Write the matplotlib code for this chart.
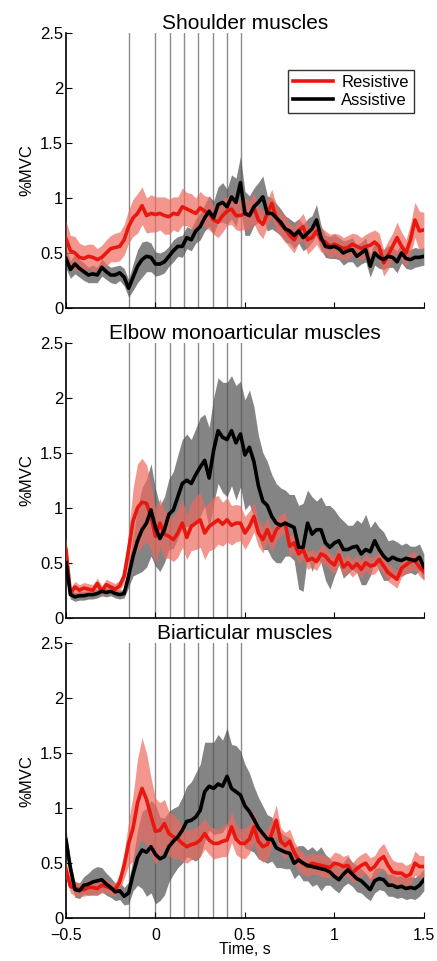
import numpy as np
import matplotlib
matplotlib.use("Agg")
import matplotlib.pyplot as plt

plt.rcParams['font.family'] = ['Liberation Sans', 'DejaVu Sans']

# time grid (s), 0.025 s sampling
time = np.linspace(-0.5, 1.5, 81)
event_times = [-0.15, 0.0, 0.08, 0.16, 0.24, 0.32, 0.40, 0.48]
titles = ["Shoulder muscles", "Elbow monoarticular muscles", "Biarticular muscles"]
labels = ["Resistive", "Assistive"]
yticks = [0, 0.5, 1, 1.5, 2, 2.5]
ytick_labels = ["0", "0.5", "1", "1.5", "2", "2.5"]
xticks = [-0.5, 0, 0.5, 1, 1.5]
xtick_labels = ["\u22120.5", "0", "0.5", "1", "1.5"]

# ---- Shoulder ----
sh_res_mean = [0.63, 0.52, 0.50, 0.46, 0.45, 0.47, 0.46, 0.44, 0.46, 0.50,
               0.54, 0.55, 0.56, 0.62, 0.74, 0.82, 0.86, 0.93, 0.84, 0.86,
               0.85, 0.86, 0.84, 0.83, 0.86, 0.85, 0.92, 0.90, 0.88, 0.86,
               0.91, 0.88, 0.86, 0.80, 0.78, 0.84, 0.88, 0.90, 0.84, 0.84,
               0.86, 0.84, 0.91, 0.80, 0.76, 0.86, 0.95, 0.82, 0.76, 0.72,
               0.66, 0.62, 0.70, 0.74, 0.62, 0.64, 0.70, 0.62, 0.60, 0.56,
               0.58, 0.56, 0.54, 0.55, 0.58, 0.56, 0.54, 0.56, 0.57, 0.60,
               0.56, 0.41, 0.48, 0.56, 0.64, 0.56, 0.50, 0.62, 0.80, 0.70, 0.71]
sh_res_half = [0.16, 0.14, 0.15, 0.13, 0.12, 0.11, 0.12, 0.10, 0.11, 0.12,
               0.12, 0.13, 0.13, 0.14,
               0.15, 0.17, 0.18, 0.17, 0.16, 0.17, 0.16, 0.15, 0.17, 0.16,
               0.15, 0.16, 0.17, 0.15, 0.16, 0.14, 0.15, 0.14, 0.15, 0.13,
               0.14, 0.15, 0.13, 0.14, 0.13, 0.14, 0.14,
               0.13, 0.14, 0.12, 0.13, 0.12, 0.13, 0.12, 0.11, 0.12, 0.11,
               0.12, 0.11, 0.12, 0.13, 0.11, 0.12, 0.11, 0.10, 0.11, 0.10,
               0.11, 0.10, 0.11, 0.10, 0.11, 0.10, 0.11, 0.12, 0.11, 0.12,
               0.12, 0.13, 0.12, 0.14, 0.13, 0.12, 0.14, 0.16, 0.18, 0.16]
sh_ast_mean = [0.45, 0.35, 0.40, 0.36, 0.33, 0.30, 0.31, 0.30, 0.37, 0.33,
               0.30, 0.30, 0.32, 0.28, 0.18, 0.28, 0.38, 0.44, 0.47, 0.46,
               0.40, 0.40, 0.42, 0.47, 0.52, 0.56, 0.56, 0.64, 0.62, 0.70,
               0.74, 0.82, 0.88, 0.82, 0.94, 0.96, 0.92, 1.01, 0.96, 1.14,
               0.86, 0.84, 0.92, 0.96, 1.01, 0.86, 0.86, 0.82, 0.78, 0.72,
               0.70, 0.66, 0.70, 0.64, 0.68, 0.72, 0.80, 0.64, 0.56, 0.55,
               0.56, 0.54, 0.50, 0.52, 0.53, 0.47, 0.50, 0.53, 0.38, 0.50,
               0.46, 0.44, 0.47, 0.46, 0.42, 0.50, 0.45, 0.44, 0.46, 0.46, 0.47]
sh_ast_half = [0.09, 0.08, 0.09, 0.08, 0.08, 0.07, 0.08, 0.07, 0.08, 0.07,
               0.07, 0.08, 0.07, 0.08,
               0.08, 0.12, 0.15, 0.16, 0.14, 0.13, 0.11, 0.10, 0.10, 0.09,
               0.10, 0.09, 0.10,
               0.10, 0.10, 0.11, 0.12, 0.12, 0.14, 0.15, 0.16, 0.18, 0.16,
               0.20, 0.22, 0.24, 0.20, 0.18, 0.17, 0.18, 0.19, 0.16, 0.14,
               0.13, 0.12, 0.12,
               0.11, 0.12, 0.11, 0.12, 0.13, 0.12, 0.14, 0.11, 0.10, 0.10,
               0.11, 0.10, 0.11, 0.10, 0.11, 0.10, 0.10, 0.11, 0.10, 0.11,
               0.10, 0.09, 0.10, 0.09, 0.10, 0.09, 0.09, 0.09, 0.09, 0.08, 0.08]

# ---- Elbow monoarticular ----
el_res_mean = [0.62, 0.22, 0.28, 0.25, 0.27, 0.26, 0.25, 0.31, 0.24, 0.30,
               0.28, 0.26, 0.29, 0.38, 0.62, 0.88, 1.00, 1.05, 1.04, 0.92,
               0.74, 0.86, 0.76, 0.74, 0.71, 0.77, 0.86, 0.73, 0.83, 0.86,
               0.89, 0.77, 0.83, 0.86, 0.89, 0.85, 0.89, 0.84, 0.86, 0.86,
               0.77, 0.83, 0.92, 0.77, 0.71, 0.80, 0.70, 0.80, 0.84, 0.86,
               0.65, 0.68, 0.58, 0.62, 0.52, 0.54, 0.51, 0.58, 0.56, 0.51,
               0.48, 0.57, 0.46, 0.50, 0.45, 0.49, 0.44, 0.50, 0.47, 0.48,
               0.53, 0.47, 0.41, 0.38, 0.35, 0.45, 0.48, 0.51, 0.52, 0.46, 0.42]
el_res_half = [0.12,
               0.05, 0.05, 0.05, 0.05, 0.05, 0.05, 0.05, 0.05, 0.05, 0.05,
               0.05, 0.05, 0.06,
               0.15, 0.30, 0.40, 0.40, 0.35, 0.30, 0.25,
               0.22, 0.22, 0.20, 0.20, 0.22, 0.22, 0.20, 0.22, 0.24, 0.25,
               0.24, 0.22, 0.24, 0.22, 0.20, 0.20, 0.18, 0.17, 0.16, 0.15,
               0.14, 0.14, 0.12, 0.12, 0.11, 0.10, 0.10, 0.10, 0.10,
               0.09, 0.09, 0.09, 0.08, 0.08, 0.08, 0.08, 0.08, 0.08, 0.08,
               0.08, 0.08, 0.08, 0.08, 0.08, 0.08, 0.08, 0.08, 0.08, 0.08,
               0.08, 0.08, 0.08, 0.08, 0.08, 0.08, 0.08, 0.08, 0.08, 0.08, 0.08]
el_ast_mean = [0.50, 0.21, 0.19, 0.20, 0.20, 0.21, 0.21, 0.22, 0.24, 0.23,
               0.24, 0.22, 0.21, 0.22, 0.38, 0.56, 0.70, 0.80, 0.86, 0.98,
               0.82, 0.72, 0.80, 0.94, 0.98, 1.10, 1.22, 1.25, 1.22, 1.30,
               1.37, 1.43, 1.27, 1.52, 1.70, 1.64, 1.62, 1.70, 1.59, 1.67,
               1.48, 1.55, 1.42, 1.20, 1.06, 1.02, 0.92, 0.86, 0.84, 0.86,
               0.84, 0.82, 0.64, 0.64, 0.86, 0.76, 0.80, 0.80, 0.68, 0.64,
               0.68, 0.70, 0.62, 0.62, 0.64, 0.65, 0.58, 0.62, 0.60, 0.70,
               0.62, 0.56, 0.52, 0.55, 0.53, 0.52, 0.54, 0.53, 0.52, 0.55, 0.46]
el_ast_half = [0.10,
               0.04, 0.04, 0.04, 0.04, 0.04, 0.04, 0.04, 0.04, 0.04, 0.04,
               0.04, 0.04, 0.04,
               0.10, 0.18, 0.30, 0.38, 0.40, 0.42, 0.35, 0.30, 0.30,
               0.32, 0.35, 0.38, 0.40, 0.42, 0.40, 0.42, 0.45, 0.42, 0.46,
               0.48, 0.48, 0.50, 0.52, 0.50, 0.52, 0.48, 0.50, 0.52, 0.50,
               0.46, 0.44, 0.40,
               0.38, 0.36, 0.34, 0.30, 0.28, 0.30, 0.38, 0.40, 0.30, 0.34,
               0.26, 0.30, 0.34, 0.38, 0.30, 0.22, 0.26, 0.22, 0.20, 0.24,
               0.28, 0.32, 0.22, 0.18, 0.20, 0.22, 0.18, 0.16, 0.16, 0.14,
               0.14, 0.12, 0.13, 0.12, 0.12]

# ---- Biarticular ----
bi_res_mean = [0.44, 0.29, 0.27, 0.26, 0.26, 0.28, 0.28, 0.27, 0.30, 0.29,
               0.27, 0.26, 0.33, 0.48, 0.68, 0.82, 1.05, 1.18, 1.08, 0.93,
               0.79, 0.80, 0.86, 0.77, 0.74, 0.72, 0.68, 0.65, 0.67, 0.68,
               0.71, 0.77, 0.71, 0.68, 0.68, 0.70, 0.71, 0.83, 0.72, 0.68,
               0.68, 0.72, 0.83, 0.70, 0.65, 0.67, 0.77, 0.89, 0.70, 0.66,
               0.70, 0.60, 0.53, 0.50, 0.47, 0.50, 0.49, 0.48, 0.47, 0.46,
               0.50, 0.49, 0.47, 0.48, 0.41, 0.45, 0.48, 0.50, 0.44, 0.47,
               0.53, 0.56, 0.48, 0.42, 0.41, 0.41, 0.38, 0.40, 0.50, 0.47, 0.47]
bi_res_half = [0.08,
               0.06, 0.07, 0.06, 0.06, 0.07, 0.06, 0.06, 0.07, 0.06, 0.06,
               0.06, 0.07,
               0.12, 0.20, 0.30, 0.40, 0.46, 0.42, 0.35, 0.30, 0.25, 0.22,
               0.20, 0.20, 0.18, 0.16, 0.15, 0.14, 0.14, 0.15, 0.14, 0.13,
               0.14, 0.13, 0.14, 0.15, 0.14, 0.14, 0.13, 0.14, 0.13, 0.14,
               0.15, 0.14, 0.14, 0.13, 0.14, 0.12, 0.12, 0.11,
               0.10, 0.10, 0.10, 0.09, 0.10, 0.09, 0.10, 0.10, 0.09, 0.10,
               0.10, 0.09, 0.10, 0.09, 0.10, 0.10, 0.10, 0.11, 0.10, 0.11,
               0.12, 0.12, 0.11, 0.10, 0.10, 0.10, 0.10, 0.11, 0.10, 0.10]
bi_ast_mean = [0.71, 0.45, 0.26, 0.25, 0.30, 0.31, 0.33, 0.34, 0.35, 0.31,
               0.28, 0.24, 0.25, 0.20, 0.23, 0.40, 0.55, 0.62, 0.60, 0.65,
               0.58, 0.54, 0.56, 0.65, 0.70, 0.74, 0.80, 0.88, 0.89, 0.92,
               0.98, 1.15, 1.20, 1.18, 1.22, 1.20, 1.29, 1.18, 1.15, 1.12,
               1.02, 0.97, 0.90, 0.82, 0.77, 0.72, 0.72, 0.64, 0.62, 0.60,
               0.59, 0.50, 0.53, 0.50, 0.48, 0.47, 0.46, 0.45, 0.44, 0.42,
               0.38, 0.35, 0.40, 0.44, 0.40, 0.36, 0.34, 0.30, 0.26, 0.34,
               0.36, 0.35, 0.30, 0.30, 0.28, 0.29, 0.27, 0.28, 0.27, 0.30, 0.35]
bi_ast_half = [0.10,
               0.07, 0.07, 0.07, 0.08, 0.10, 0.12, 0.13, 0.11, 0.10, 0.09,
               0.08, 0.08, 0.08, 0.10,
               0.15, 0.25, 0.35, 0.40, 0.42, 0.45, 0.38, 0.35, 0.32, 0.30,
               0.28, 0.30, 0.32, 0.35, 0.40, 0.42,
               0.45, 0.40, 0.42, 0.45, 0.42, 0.44, 0.40, 0.42, 0.40, 0.38,
               0.35, 0.30, 0.28, 0.25, 0.22,
               0.20, 0.18, 0.16, 0.15, 0.14, 0.14, 0.13, 0.16, 0.14, 0.18,
               0.15, 0.20, 0.14, 0.12, 0.12, 0.12, 0.11, 0.12, 0.11, 0.12,
               0.11, 0.11, 0.10, 0.11, 0.10, 0.10, 0.10, 0.10, 0.10, 0.10,
               0.10, 0.10, 0.10, 0.10, 0.10]

panels = [
    (sh_res_mean, sh_res_half, sh_ast_mean, sh_ast_half),
    (el_res_mean, el_res_half, el_ast_mean, el_ast_half),
    (bi_res_mean, bi_res_half, bi_ast_mean, bi_ast_half),
]

RED = "#e8170f"
RED_BAND = "#ee6a5f"
GRAY_BAND = "#505050"

fig = plt.figure(figsize=(4.37, 9.61), dpi=100)
left, width, height = 0.151, 0.819, 0.2862
bottoms = [0.6795, 0.3572, 0.0445]

for i, (rm, rh, am, ah) in enumerate(panels):
    ax = fig.add_axes([left, bottoms[i], width, height])
    rm, rh, am, ah = map(np.asarray, (rm, rh, am, ah))
    for et in event_times:
        ax.axvline(et, color="#8c8c8c", lw=1.0, zorder=1)
    ax.fill_between(time, am - ah, am + ah, color=GRAY_BAND, alpha=0.7,
                    lw=0, zorder=2)
    ax.fill_between(time, rm - rh, rm + rh, color=RED_BAND, alpha=0.7,
                    lw=0, zorder=3)
    ax.plot(time, rm, color=RED, lw=2.6, zorder=4, label=labels[0])
    ax.plot(time, am, color="black", lw=2.6, zorder=5, label=labels[1])
    ax.set_xlim(-0.5, 1.5)
    ax.set_ylim(0, 2.5)
    ax.set_yticks(yticks)
    ax.set_yticklabels(ytick_labels)
    ax.set_xticks(xticks)
    if i == 2:
        ax.set_xticklabels(xtick_labels)
        ax.set_xlabel("Time, s", fontsize=11.5, labelpad=-1)
    else:
        ax.set_xticklabels([])
    ax.tick_params(direction="in", length=4, width=0.8, labelsize=12)
    ax.tick_params(axis="y", pad=2)
    ax.tick_params(axis="x", pad=7, labelsize=11.5)
    ax.set_ylabel("%MVC", fontsize=12, labelpad=4)
    ax.set_title(titles[i], fontsize=15, pad=3)
    ax.spines["top"].set_visible(False)
    ax.spines["right"].set_visible(False)
    ax.spines["left"].set_linewidth(1.2)
    ax.spines["bottom"].set_linewidth(1.2)
    if i == 0:
        leg = ax.legend(loc="upper right", bbox_to_anchor=(0.995, 0.895),
                        fontsize=12, frameon=True, fancybox=False,
                        edgecolor="black", handlelength=2.4, borderpad=0.3,
                        labelspacing=0.15, handletextpad=0.5)
        leg.get_frame().set_linewidth(1.0)

fig.savefig("out.png", dpi=100)
